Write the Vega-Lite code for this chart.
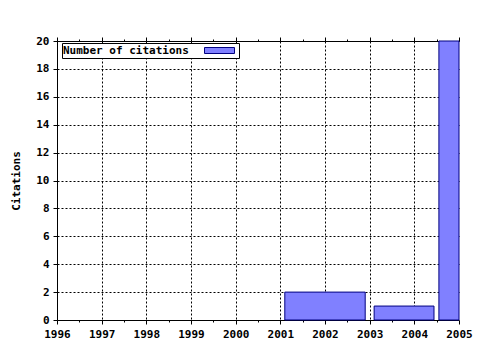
{
  "$schema": "https://vega.github.io/schema/vega-lite/v6.json",
  "width": 402,
  "height": 279,
  "autosize": "none",
  "padding": {"left": 57, "top": 41, "right": 21, "bottom": 30},
  "background": "white",
  "config": {
    "view": {"stroke": null},
    "font": "DejaVu Sans Mono",
    "axis": {
      "labelFont": "DejaVu Sans Mono",
      "labelFontWeight": "bold",
      "labelFontSize": 11,
      "labelColor": "black",
      "titleFont": "DejaVu Sans Mono",
      "titleFontWeight": "bold",
      "titleFontSize": 11,
      "titleColor": "black",
      "domainColor": "black",
      "tickColor": "black",
      "gridColor": "black",
      "gridDash": [2, 2],
      "gridOpacity": 1
    }
  },
  "data": {
    "values": [
      {"start": 2001.1, "end": 2002.9, "citations": 2, "series": "Number of citations"},
      {"start": 2003.1, "end": 2004.44, "citations": 1, "series": "Number of citations"},
      {"start": 2004.55, "end": 2005, "citations": 20, "series": "Number of citations"}
    ]
  },
  "encoding": {
    "y": {
      "field": "citations", "type": "quantitative",
      "scale": {"domain": [0, 20], "nice": false, "padding": 0},
      "axis": {
        "title": "Citations",
        "values": [0, 2, 4, 6, 8, 10, 12, 14, 16, 18, 20],
        "tickSize": 4,
        "labelPadding": 4,
        "titlePadding": 14,
        "labelOverlap": false,
        "gridOpacity": {"condition": {"test": "datum.value == 0", "value": 0}, "value": 1}
      }
    },
    "y2": {"datum": 0}
  },
  "layer": [
    {
      "mark": {"type": "bar", "stroke": "#000080", "strokeWidth": 1, "fillOpacity": 1},
      "encoding": {
        "x": {
          "field": "start", "type": "quantitative",
          "scale": {"domain": [1996, 2005], "nice": false, "zero": false},
          "axis": {
            "title": null,
            "values": [1996, 1996.5, 1997, 1997.5, 1998, 1998.5, 1999, 1999.5, 2000, 2000.5, 2001, 2001.5, 2002, 2002.5, 2003, 2003.5, 2004, 2004.5, 2005],
            "labelExpr": "datum.value % 1 == 0 ? format(datum.value, 'd') : ''",
            "tickSize": {"condition": {"test": "datum.value % 1 != 0", "value": 2}, "value": 4},
            "gridOpacity": {"condition": {"test": "datum.value % 1 != 0 || datum.value == 1996 || datum.value == 2005", "value": 0}, "value": 1},
            "labelPadding": 4,
            "labelFlush": false,
            "labelOverlap": false
          }
        },
        "x2": {"field": "end"},
        "fill": {
          "field": "series", "type": "nominal",
          "scale": {"range": ["#8080ff"]},
          "legend": {
            "title": null,
            "orient": "none",
            "legendX": 5,
            "legendY": 2,
            "strokeColor": "black",
            "fillColor": "white",
            "padding": 2,
            "labelFont": "DejaVu Sans Mono",
            "labelFontWeight": "bold",
            "labelFontSize": 11,
            "labelColor": "black",
            "symbolType": "M-3,-0.6H3V0.6H-3Z",
            "symbolSize": 100,
            "symbolStrokeColor": "#000080",
            "symbolStrokeWidth": 1,
            "symbolFillColor": "#8080ff",
            "symbolOffset": 150,
            "labelOffset": -162
          }
        }
      }
    },
    {
      "mark": {"type": "bar", "opacity": 0},
      "encoding": {
        "x": {
          "field": "start", "type": "quantitative",
          "scale": {"domain": [1996, 2005], "nice": false, "zero": false},
          "axis": {
            "orient": "top",
            "title": null,
            "labels": false,
            "grid": false,
            "values": [1996, 1996.5, 1997, 1997.5, 1998, 1998.5, 1999, 1999.5, 2000, 2000.5, 2001, 2001.5, 2002, 2002.5, 2003, 2003.5, 2004, 2004.5, 2005],
            "tickSize": {"condition": {"test": "datum.value % 1 != 0", "value": 2}, "value": 4}
          }
        },
        "x2": {"field": "end"}
      }
    }
  ],
  "resolve": {"axis": {"x": "independent"}}
}
